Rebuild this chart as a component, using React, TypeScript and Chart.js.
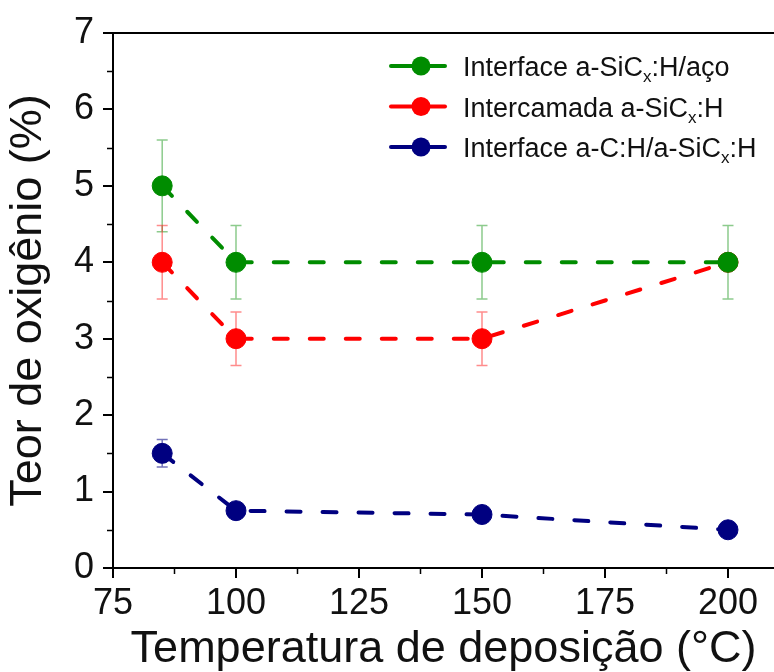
import React, { useEffect, useRef } from 'react';
import { Chart, registerables } from 'chart.js';

Chart.register(...registerables);

// ---- data ----
const temperatures = [85, 100, 150, 200];
const seriesLabels = ['Interface a-SiC_x:H/aço', 'Intercamada a-SiC_x:H', 'Interface a-C:H/a-SiC_x:H'];
const greenValues = [5, 4, 4, 4];
const greenErrors = [0.6, 0.48, 0.48, 0.48];
const redValues = [4, 3, 3, 4];
const redErrors = [0.48, 0.35, 0.35, 0];
const blueValues = [1.5, 0.75, 0.7, 0.5];
const blueErrors = [0.18, 0, 0, 0];
const xTickValues = [75, 100, 125, 150, 175, 200];
const yTickValues = [0, 1, 2, 3, 4, 5, 6, 7];
const xTitle = 'Temperatura de deposição (°C)';
const yTitle = 'Teor de oxigênio (%)';

const lineColors = ['#008c00', '#ff0000', '#000080'];
const errorColors = ['rgba(0,140,0,0.45)', 'rgba(255,0,0,0.45)', 'rgba(0,0,128,0.55)'];

const FONT = '"Liberation Sans", Arial, sans-serif';

const errorBarPlugin = {
  id: 'errorBars',
  beforeDatasetsDraw(chart: any) {
    const { ctx } = chart;
    const xs = chart.scales.x;
    const ys = chart.scales.y;
    chart.data.datasets.forEach((ds: any) => {
      ctx.save();
      ctx.strokeStyle = ds.errorColor;
      ctx.lineWidth = 1.5;
      ds.data.forEach((p: any, i: number) => {
        const e = ds.errors[i];
        if (!e) return;
        const px = xs.getPixelForValue(p.x);
        const top = ys.getPixelForValue(p.y + e);
        const bot = ys.getPixelForValue(p.y - e);
        ctx.beginPath();
        ctx.moveTo(px, top);
        ctx.lineTo(px, bot);
        ctx.moveTo(px - 5.5, top);
        ctx.lineTo(px + 5.5, top);
        ctx.moveTo(px - 5.5, bot);
        ctx.lineTo(px + 5.5, bot);
        ctx.stroke();
      });
      ctx.restore();
    });
  },
};

const framePlugin = {
  id: 'frame',
  afterDraw(chart: any) {
    const { ctx, chartArea } = chart;
    const xs = chart.scales.x;
    const ys = chart.scales.y;
    ctx.save();
    ctx.strokeStyle = '#000';
    ctx.lineWidth = 2;
    // top border
    ctx.beginPath();
    ctx.moveTo(chartArea.left, chartArea.top);
    ctx.lineTo(chart.width, chartArea.top);
    ctx.stroke();
    // minor ticks
    ctx.lineWidth = 1.5;
    ctx.beginPath();
    for (let i = 0; i < yTickValues.length - 1; i++) {
      const v = (yTickValues[i] + yTickValues[i + 1]) / 2;
      const py = Math.round(ys.getPixelForValue(v)) + 0.5;
      ctx.moveTo(chartArea.left - 6, py);
      ctx.lineTo(chartArea.left, py);
    }
    const step = xTickValues[1] - xTickValues[0];
    for (let i = 0; i < xTickValues.length; i++) {
      const v = xTickValues[i] + step / 2;
      if (v > xs.max) break;
      const px = Math.round(xs.getPixelForValue(v)) + 0.5;
      ctx.moveTo(px, chartArea.bottom);
      ctx.lineTo(px, chartArea.bottom + 6);
    }
    ctx.stroke();
    ctx.restore();

    // legend
    const lx = chartArea.left + 276;
    const ly = chartArea.top + 33;
    chart.data.datasets.forEach((ds: any, i: number) => {
      const cy = ly + i * 40.5;
      ctx.save();
      ctx.strokeStyle = ds.borderColor;
      ctx.lineWidth = 4;
      ctx.lineCap = 'round';
      ctx.beginPath();
      ctx.moveTo(lx + 2, cy);
      ctx.lineTo(lx + 56, cy);
      ctx.stroke();
      ctx.fillStyle = ds.borderColor;
      ctx.beginPath();
      ctx.arc(lx + 32, cy, 9.5, 0, Math.PI * 2);
      ctx.fill();
      const parts = String(ds.label).split('_x');
      ctx.fillStyle = '#111';
      ctx.textBaseline = 'alphabetic';
      ctx.textAlign = 'left';
      let tx = lx + 74;
      const by = cy + 10;
      parts.forEach((part: string, k: number) => {
        ctx.font = `27px ${FONT}`;
        ctx.fillText(part, tx, by);
        tx += ctx.measureText(part).width;
        if (k < parts.length - 1) {
          ctx.font = `17px ${FONT}`;
          ctx.fillText('x', tx, by + 6);
          tx += ctx.measureText('x').width;
        }
      });
      ctx.restore();
    });
  },
};

function makeDataset(label: string, values: number[], errors: number[], idx: number) {
  return {
    label,
    data: temperatures.map((x, i) => ({ x, y: values[i] })),
    errors,
    errorColor: errorColors[idx],
    borderColor: lineColors[idx],
    backgroundColor: lineColors[idx],
    pointBackgroundColor: lineColors[idx],
    pointBorderColor: lineColors[idx],
    pointRadius: 10,
    pointBorderWidth: 1,
    borderWidth: 4,
    borderDash: [14, 22],
    borderCapStyle: 'round',
    tension: 0,
    fill: false,
  };
}

export default function App() {
  const ref = useRef<HTMLCanvasElement | null>(null);

  useEffect(() => {
    if (!ref.current) return;
    const tickFont = { family: FONT, size: 36 };
    const chart = new Chart(ref.current, {
      type: 'line',
      data: {
        datasets: [
          makeDataset(seriesLabels[0], greenValues, greenErrors, 0),
          makeDataset(seriesLabels[1], redValues, redErrors, 1),
          makeDataset(seriesLabels[2], blueValues, blueErrors, 2),
        ] as any,
      },
      options: {
        animation: false,
        responsive: false,
        maintainAspectRatio: false,
        layout: { autoPadding: false, padding: { top: 33, right: 0, bottom: 0, left: 0 } },
        plugins: { legend: { display: false }, tooltip: { enabled: false } },
        scales: {
          x: {
            type: 'linear',
            min: 75,
            max: 209.35,
            afterBuildTicks: (s: any) => {
              s.ticks = xTickValues.map((v) => ({ value: v }));
            },
            afterFit: (s: any) => {
              s.height = 104;
              s.paddingLeft = 0;
              s.paddingRight = 0;
            },
            ticks: { font: tickFont, color: '#111', padding: 4, maxRotation: 0, autoSkip: false },
            grid: { drawOnChartArea: false, drawTicks: true, tickLength: 10, color: '#000', lineWidth: 2 },
            border: { display: true, color: '#000', width: 2 },
            title: {
              display: true,
              text: xTitle,
              color: '#111',
              font: { family: FONT, size: 45, lineHeight: 1 },
              padding: { top: 0, bottom: 0 },
            },
          },
          y: {
            type: 'linear',
            min: 0,
            max: 7,
            afterBuildTicks: (s: any) => {
              s.ticks = yTickValues.map((v) => ({ value: v }));
            },
            afterFit: (s: any) => {
              s.width = 113;
              s.paddingTop = 0;
              s.paddingBottom = 0;
            },
            ticks: { font: tickFont, color: '#111', padding: 9 },
            grid: { drawOnChartArea: false, drawTicks: true, tickLength: 10, color: '#000', lineWidth: 2 },
            border: { display: true, color: '#000', width: 2 },
            title: {
              display: true,
              text: yTitle,
              color: '#111',
              font: { family: FONT, size: 45, lineHeight: 1 },
              padding: { top: 6, bottom: 0 },
            },
          },
        },
      } as any,
      plugins: [errorBarPlugin, framePlugin],
    });
    return () => chart.destroy();
  }, []);

  return (
    <div style={{ position: 'absolute', left: 0, top: 0, width: 774, height: 672, background: '#fff' }}>
      <canvas ref={ref} width={774} height={672} style={{ width: 774, height: 672, display: 'block' }} />
    </div>
  );
}
